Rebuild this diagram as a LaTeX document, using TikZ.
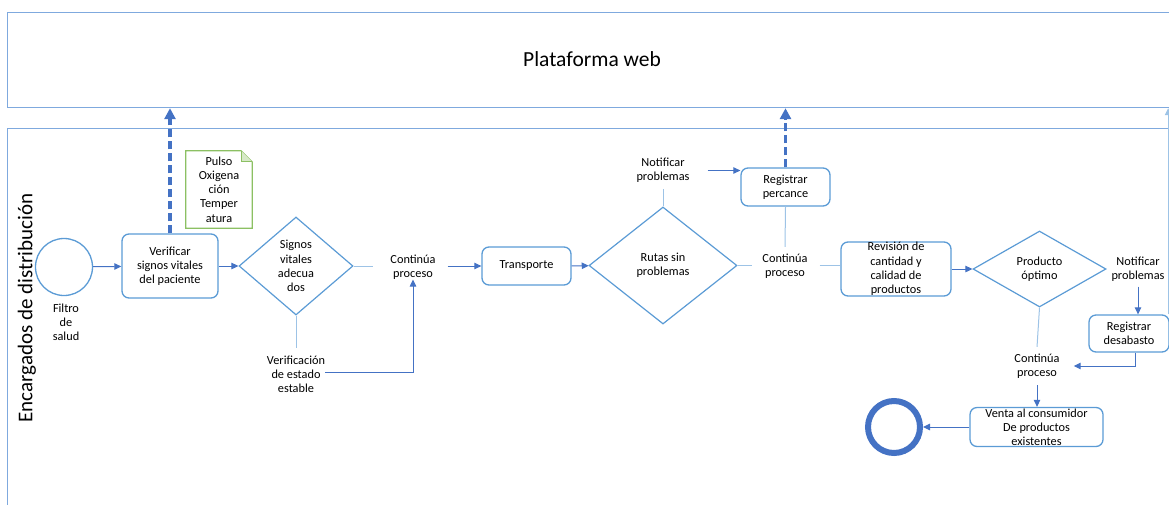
\documentclass[tikz,border=0pt]{standalone}
\usepackage{fontspec}
\setmainfont{Carlito}
\usetikzlibrary{shapes.geometric,arrows.meta}
\definecolor{lane}{HTML}{7FA9DE}
\definecolor{boxc}{HTML}{5B9BD5}
\definecolor{arr}{HTML}{4472C4}
\definecolor{lite}{HTML}{9DC3E6}
\definecolor{notec}{HTML}{8CC063}
\begin{document}
\begin{tikzpicture}[x=1pt,y=-1pt, font=\fontsize{12.3}{14.2}\selectfont,
 txt/.style={align=center, inner sep=0pt},
 task/.style={draw=boxc, line width=1.3pt, rounded corners=7pt, align=center, inner sep=0pt},
 gate/.style={draw=boxc, line width=1.2pt, diamond, align=center, inner sep=0pt},
 arw/.style={draw=arr, line width=1pt, -{Triangle[length=7pt,width=6.5pt]}},
 ln/.style={draw=lite, line width=1pt},
 msg/.style={draw=arr, line width=3.5pt, dash pattern=on 8pt off 4pt, -{Triangle[length=11pt,width=11pt]}},
 lanebox/.style={draw=lane, line width=1.2pt, anchor=north west, inner sep=0pt}
]
\useasboundingbox (0,0) rectangle (1169,504);
\clip (0,0) rectangle (1169,504);

% lanes
\node[lanebox, minimum width=1178pt, minimum height=95pt] (webl) at (7,12) {};
\node[font=\fontsize{21.5}{26}\selectfont, inner sep=0pt] (webt) at (592,59) {Plataforma web};
\node[lanebox, minimum width=1178pt, minimum height=400pt] (lane2) at (7,128) {};
\node[rotate=90, font=\fontsize{21}{25}\selectfont, inner sep=0pt] (lanel) at (27,308) {Encargados de distribución};

% nodes
\node[circle, draw=boxc, line width=1.3pt, minimum size=57pt, inner sep=0pt] (start) at (64,267) {};
\node[txt] (startl) at (66,322) {Filtro\\de\\salud};
\node[task, minimum width=96pt, minimum height=64pt] (verif) at (170,266) {Verificar\\signos vitales\\del paciente};
\node[txt, minimum width=66pt, minimum height=77pt] (note) at (219,189.5) {Pulso\\Oxigena\\ción\\Temper\\atura};
\draw[notec, line width=1.2pt] (note.north west) -- ([xshift=-11pt]note.north east) -- ([yshift=-11pt]note.north east) -- (note.south east) -- (note.south west) -- cycle;
\draw[notec, line width=0.8pt, fill=notec!35] ([xshift=-11pt]note.north east) -- ([xshift=-11pt,yshift=-11pt]note.north east) -- ([yshift=-11pt]note.north east);
\node[gate, minimum width=114pt, minimum height=98pt] (g1) at (296,266) {Signos\\vitales\\adecua\\dos};
\node[txt] (c1) at (413,267) {Continúa\\proceso};
\node[txt] (v1) at (296,374) {Verificación\\de estado\\estable};
\node[task, minimum width=89pt, minimum height=38pt] (trans) at (526.5,266) {Transporte};
\node[gate, minimum width=148pt, minimum height=117pt] (g2) at (663,265.5) {Rutas sin\\problemas};
\node[txt] (n1) at (663,170.5) {Notificar\\problemas};
\node[task, minimum width=89pt, minimum height=38pt] (perc) at (785.5,187) {Registrar\\percance};
\node[txt] (c2) at (785,266.5) {Continúa\\proceso};
\node[task, minimum width=110pt, minimum height=54pt, inner ysep=-1pt] (rev) at (896,269) {Revisión de\\cantidad y\\calidad de\\productos};
\node[gate, minimum width=133pt, minimum height=76pt] (g3) at (1039.5,269) {Producto\\óptimo};
\node[txt] (n2) at (1138,269) {Notificar\\problemas};
\node[task, minimum width=80pt, minimum height=37pt] (desab) at (1129,333.5) {Registrar\\desabasto};
\node[txt] (c3) at (1037,366) {Continúa\\proceso};
\node[task, minimum width=133pt, minimum height=39pt, inner ysep=-1.5pt] (venta) at (1036.5,427) {Venta al consumidor\\De productos\\existentes};
\node[circle, draw=arr, line width=6pt, minimum size=52pt, inner sep=0pt] (end) at (894,427) {};

% connectors
\draw[arw] (start) -- (verif);
\draw[arw] (verif) -- (g1);
\draw[msg] (verif.north) -- (verif.north |- webl.south);
\draw[ln] (g1.east) -- ([xshift=-17pt]c1.west |- g1.east);
\draw[ln] (g1.south) -- ([yshift=7pt]v1.north);
\draw[arw] ([yshift=2pt]v1.east) -| (c1.south);
\draw[arw] ([xshift=12pt]c1.east |- trans.west) -- (trans.west);
\draw[arw] (trans) -- (g2);
\draw[ln] (g2.north) -- ([yshift=-6pt]n1.south);
\draw[arw] ([xshift=18pt]n1.east) -- (perc.west |- n1.east);
\draw[msg] (perc.north) -- (perc.north |- webl.south);
\draw[ln] (perc.south) -- ([yshift=7pt]c2.north);
\draw[ln] (g2.east) -- ([xshift=-10pt]c2.west |- g2.east);
\draw[ln] ([xshift=12pt]c2.east |- g2.east) -- (rev.west |- g2.east);
\draw[arw] (rev) -- (g3);
\draw[arw] ([yshift=-5pt]n2.south) -- (desab.north -| n2.south);
\draw[arw] ([xshift=6pt]desab.south) |- ([xshift=14pt]c3.east);
\draw[ln] (g3.south) -- ([yshift=6.5pt]c3.north);
\draw[arw] ([yshift=-6.5pt]c3.south) -- (venta.north -| c3.south);
\draw[arw] (venta) -- (end);
\draw[ln, -{Triangle[length=7pt,width=6.5pt]}] ([xshift=-1.5pt]desab.north east) -- ([xshift=-1.5pt]desab.north east |- webl.south);
\end{tikzpicture}
\end{document}
